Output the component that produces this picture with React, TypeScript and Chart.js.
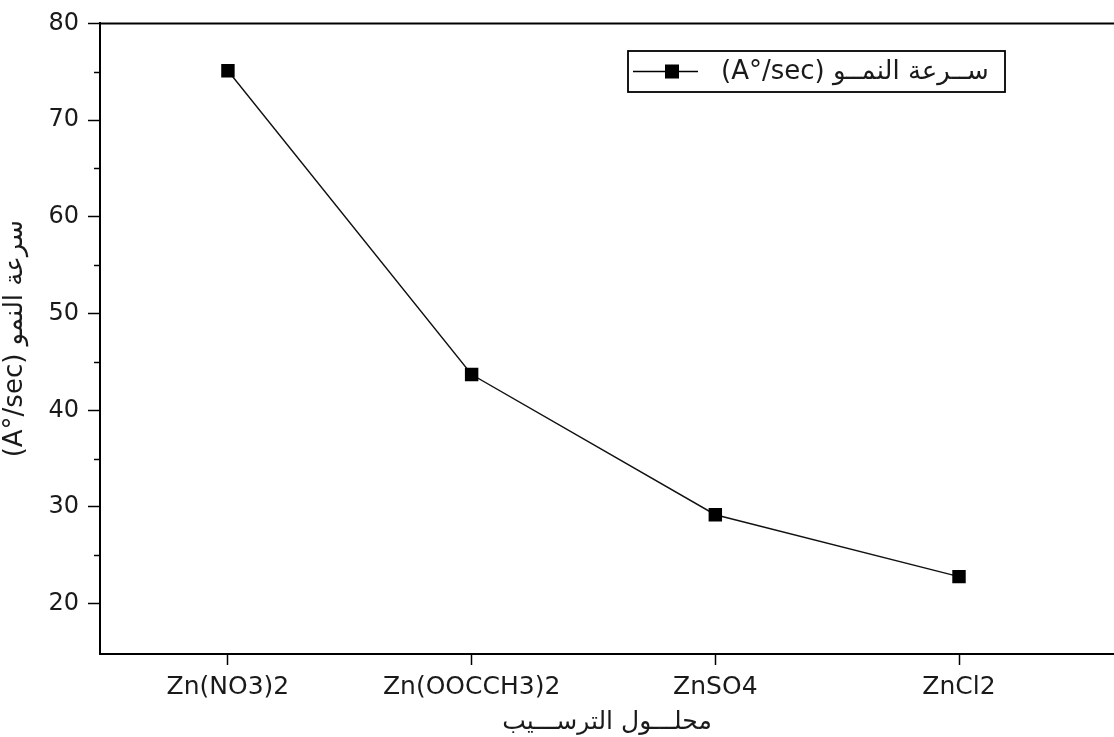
import React, { useEffect, useRef } from "react";
import { Chart, registerables } from "chart.js";

Chart.register(...registerables);

const categories = ["Zn(NO3)2", "Zn(OOCCH3)2", "ZnSO4", "ZnCl2"];
const growthRate = [75.1, 43.7, 29.2, 22.8];
const seriesLabel = "(A°/sec) ســرعة النمــو";
const yTitle = "(A°/sec) سرعة النمو";
const xTitle = "محلـــول الترســـيب";
const yMajorTicks = [20, 30, 40, 50, 60, 70, 80];
const yMinorTicks = [25, 35, 45, 55, 65, 75];

const FONT = "'DejaVu Sans', 'Liberation Sans', sans-serif";

const decorPlugin = {
  id: "decor",
  afterDraw(chart: any) {
    const ctx = chart.ctx;
    const { left, right, top } = chart.chartArea;
    const ys = chart.scales.y;
    ctx.save();
    ctx.strokeStyle = "#000";
    ctx.lineWidth = 2;
    ctx.beginPath();
    ctx.moveTo(left - 1, top);
    ctx.lineTo(right, top);
    ctx.stroke();
    ctx.lineWidth = 1.5;
    yMinorTicks.forEach((v) => {
      const py = Math.round(ys.getPixelForValue(v)) + 0.5;
      ctx.beginPath();
      ctx.moveTo(left - 6, py);
      ctx.lineTo(left, py);
      ctx.stroke();
    });
    const bx = 628, by = 51, bw = 377, bh = 41;
    ctx.lineWidth = 1.8;
    ctx.strokeRect(bx, by, bw, bh);
    const cy = by + bh / 2;
    ctx.lineWidth = 1.5;
    ctx.beginPath();
    ctx.moveTo(bx + 5, cy);
    ctx.lineTo(bx + 70, cy);
    ctx.stroke();
    ctx.fillStyle = "#000";
    ctx.fillRect(bx + 44 - 7, cy - 7, 14, 14);
    ctx.fillStyle = "#1a1a1a";
    ctx.font = `26px ${FONT}`;
    ctx.textBaseline = "middle";
    ctx.textAlign = "left";
    ctx.fillText(chart.data.datasets[0].label, bx + 93, cy + 1);
    ctx.restore();
  },
};

export default function App() {
  const ref = useRef<HTMLCanvasElement>(null);
  useEffect(() => {
    document.body.style.margin = "0";
    const chart = new Chart(ref.current!, {
      type: "line",
      data: {
        datasets: [
          {
            label: seriesLabel,
            data: categories.map((_, i) => ({ x: i, y: growthRate[i] })),
            borderColor: "#111",
            borderWidth: 1.4,
            backgroundColor: "#000",
            pointStyle: "rect",
            pointRadius: 9.5,
            pointBackgroundColor: "#000",
            pointBorderColor: "#000",
            pointBorderWidth: 0,
            tension: 0,
          },
        ],
      },
      options: {
        animation: false,
        responsive: false,
        layout: { autoPadding: false, padding: { top: 22, right: 0, left: 0, bottom: 0 } },
        plugins: {
          legend: { display: false },
          tooltip: { enabled: false },
        },
        scales: {
          x: {
            type: "linear",
            min: -0.525,
            max: 3.636,
            afterBuildTicks: (s: any) => {
              s.ticks = categories.map((_, i) => ({ value: i }));
            },
            afterFit: (s: any) => {
              s.height = 83;
            },
            ticks: {
              autoSkip: false,
              maxRotation: 0,
              padding: 7,
              color: "#1a1a1a",
              font: { family: FONT, size: 25 },
              callback: (v: any) => categories[v] ?? "",
            },
            grid: {
              drawOnChartArea: false,
              drawTicks: true,
              tickLength: 11,
              tickWidth: 1.5,
              tickColor: "#000",
            },
            border: { display: true, color: "#000", width: 2 },
            title: {
              display: true,
              text: xTitle,
              color: "#1a1a1a",
              font: { family: FONT, size: 25 },
              padding: { top: 0, bottom: 0 },
            },
          },
          y: {
            type: "linear",
            min: 14.8,
            max: 80,
            afterBuildTicks: (s: any) => {
              s.ticks = yMajorTicks.map((v) => ({ value: v }));
            },
            afterFit: (s: any) => {
              s.width = 100;
            },
            ticks: {
              padding: 9,
              color: "#1a1a1a",
              font: { family: FONT, size: 24 },
            },
            grid: {
              drawOnChartArea: false,
              drawTicks: true,
              tickLength: 12,
              tickWidth: 1.5,
              tickColor: "#000",
            },
            border: { display: true, color: "#000", width: 2 },
            title: {
              display: true,
              text: yTitle,
              color: "#1a1a1a",
              font: { family: FONT, size: 26 },
              padding: { top: 0, bottom: 0 },
            },
          },
        },
      },
      plugins: [decorPlugin],
    });
    return () => chart.destroy();
  }, []);
  return (
    <div style={{ width: 1114, height: 737 }}>
      <canvas ref={ref} width={1114} height={737} style={{ display: "block" }} />
    </div>
  );
}
